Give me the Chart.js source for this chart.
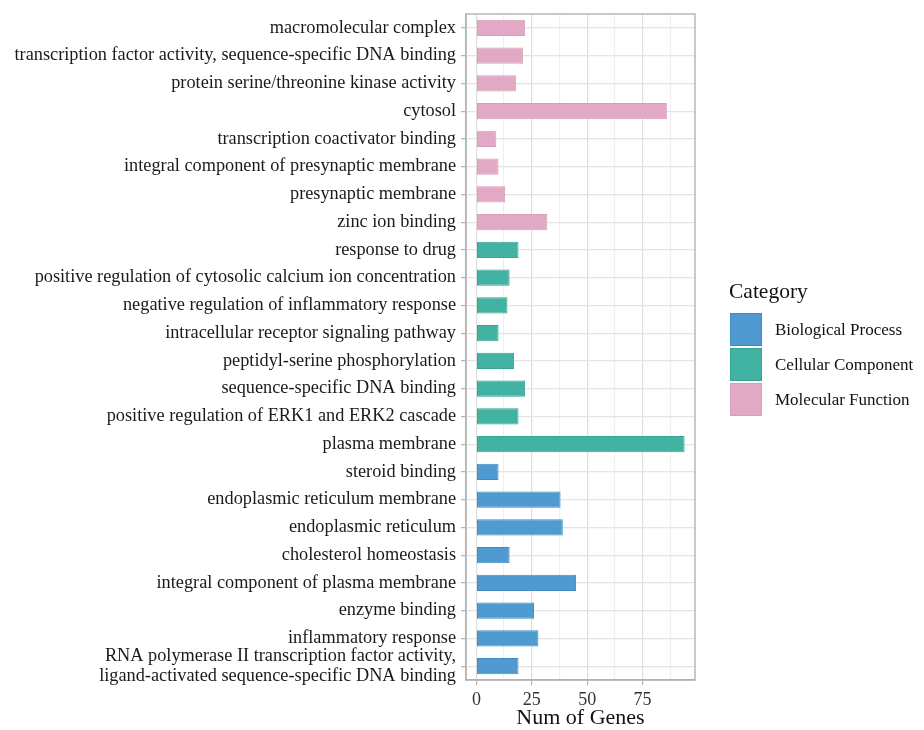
<!DOCTYPE html>
<html>
<head>
<meta charset="utf-8">
<title>GO enrichment</title>
<script src="https://cdn.jsdelivr.net/npm/chart.js@4.4.0/dist/chart.umd.min.js"></script>
<style>
  html, body { margin: 0; padding: 0; background: #fff; }
  #wrap { width: 924px; height: 730px; }
</style>
</head>
<body>
<div id="wrap"><canvas id="goChart"></canvas></div>
<script>
// GO terms, listed top to bottom
const terms = [
  'macromolecular complex',
  'transcription factor activity, sequence-specific DNA binding',
  'protein serine/threonine kinase activity',
  'cytosol',
  'transcription coactivator binding',
  'integral component of presynaptic membrane',
  'presynaptic membrane',
  'zinc ion binding',
  'response to drug',
  'positive regulation of cytosolic calcium ion concentration',
  'negative regulation of inflammatory response',
  'intracellular receptor signaling pathway',
  'peptidyl-serine phosphorylation',
  'sequence-specific DNA binding',
  'positive regulation of ERK1 and ERK2 cascade',
  'plasma membrane',
  'steroid binding',
  'endoplasmic reticulum membrane',
  'endoplasmic reticulum',
  'cholesterol homeostasis',
  'integral component of plasma membrane',
  'enzyme binding',
  'inflammatory response',
  ['RNA polymerase II transcription factor activity,', 'ligand-activated sequence-specific DNA binding']
];
const geneCounts = [22, 21, 18, 86, 9, 10, 13, 32, 19, 15, 14, 10, 17, 22, 19, 94, 10, 38, 39, 15, 45, 26, 28, 19];
const termCategory = [
  'MF', 'MF', 'MF', 'MF', 'MF', 'MF', 'MF', 'MF',
  'CC', 'CC', 'CC', 'CC', 'CC', 'CC', 'CC', 'CC',
  'BP', 'BP', 'BP', 'BP', 'BP', 'BP', 'BP', 'BP'
];
const categoryKeys = ['BP', 'CC', 'MF'];
const categoryNames = ['Biological Process', 'Cellular Component', 'Molecular Function'];
const categoryColors = ['#4F9BD1', '#42B3A2', '#E1A9C4'];
const categoryBorders = ['#3F8CC4', '#36A593', '#D99CBA'];
const xTickValues = [0, 25, 50, 75];
const xGridValues = [0, 12.5, 25, 37.5, 50, 62.5, 75, 87.5];

const serif = '"Liberation Serif", "Times New Roman", serif';

// one dataset per category, the other rows left empty
const datasets = categoryKeys.map((key, k) => ({
  label: categoryNames[k],
  data: geneCounts.map((v, i) => termCategory[i] === key ? v : null),
  backgroundColor: categoryColors[k],
  borderColor: categoryBorders[k],
  borderWidth: 1,
  borderSkipped: false,
  grouped: false,
  barPercentage: 0.59,
  categoryPercentage: 1
}));

// panel frame + category legend on the right
const panelAndLegend = {
  id: 'panelAndLegend',
  afterDraw(chart) {
    const ctx = chart.ctx;
    const a = chart.chartArea;
    ctx.save();
    ctx.strokeStyle = '#b3b3b3';
    ctx.lineWidth = 1.4;
    ctx.strokeRect(a.left, a.top, a.right - a.left, a.bottom - a.top);

    const lx = a.right + 35;
    ctx.fillStyle = '#111';
    ctx.textAlign = 'left';
    ctx.textBaseline = 'middle';
    ctx.font = '21.5px ' + serif;
    ctx.fillText('Category', lx - 1, 292);

    const boxH = 33, gap = 2;
    let y = 313;
    categoryNames.forEach((name, k) => {
      ctx.fillStyle = categoryColors[k];
      ctx.fillRect(lx, y, 32, boxH);
      ctx.strokeStyle = categoryBorders[k];
      ctx.lineWidth = 1;
      ctx.strokeRect(lx + 0.5, y + 0.5, 31, boxH - 1);
      ctx.fillStyle = '#111';
      ctx.font = '17px ' + serif;
      ctx.fillText(name, lx + 45, y + boxH / 2 + 1);
      y += boxH + gap;
    });
    ctx.restore();
  }
};

new Chart(document.getElementById('goChart'), {
  type: 'bar',
  data: { labels: terms, datasets: datasets },
  options: {
    indexAxis: 'y',
    responsive: true,
    maintainAspectRatio: false,
    animation: false,
    layout: { padding: { top: 14, right: 229, bottom: 0, left: 0 } },
    plugins: {
      legend: { display: false },
      tooltip: { enabled: false }
    },
    scales: {
      x: {
        type: 'linear',
        min: -4.7,
        max: 98.7,
        afterBuildTicks: (scale) => {
          scale.ticks = xGridValues.map(v => ({ value: v }));
        },
        afterFit: (scale) => {
          scale.height = 50;
          scale.paddingLeft = 0;
          scale.paddingRight = 0;
        },
        grid: {
          color: (c) => xTickValues.includes(c.tick && c.tick.value) ? '#dedede' : '#efefef',
          tickColor: (c) => xTickValues.includes(c.tick && c.tick.value) ? '#b3b3b3' : 'rgba(0,0,0,0)',
          lineWidth: 1.2,
          tickLength: 5
        },
        border: { color: '#b3b3b3', width: 1.4 },
        ticks: {
          autoSkip: false,
          maxRotation: 0,
          padding: 4,
          color: '#333',
          font: { family: serif, size: 18 },
          callback: (v) => xTickValues.includes(v) ? String(v) : ''
        },
        title: {
          display: true,
          text: 'Num of Genes',
          color: '#111',
          font: { family: serif, size: 22 },
          padding: { top: 0, bottom: -1 }
        }
      },
      y: {
        type: 'category',
        offset: true,
        afterFit: (scale) => {
          scale.width = 466;
          scale.paddingTop = 0;
          scale.paddingBottom = 0;
        },
        grid: {
          offset: false,
          color: '#e4e4e4',
          lineWidth: 1.2,
          tickColor: '#b3b3b3',
          tickLength: 5
        },
        border: { color: '#b3b3b3', width: 1.4 },
        ticks: {
          autoSkip: false,
          padding: 5,
          color: '#1a1a1a',
          font: { family: serif, size: 18.3, lineHeight: 1.1 }
        }
      }
    }
  },
  plugins: [panelAndLegend]
});
</script>
</body>
</html>
